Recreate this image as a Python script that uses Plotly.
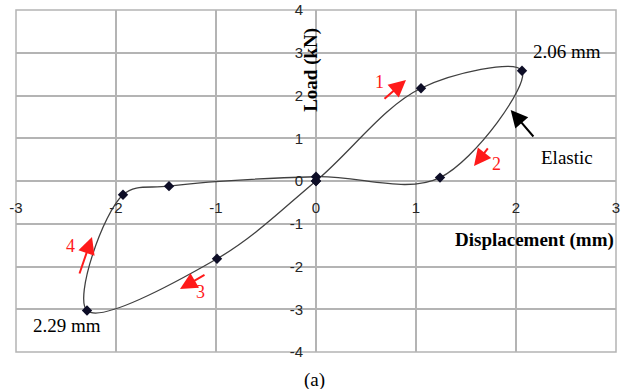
import plotly.graph_objects as go

# Data (displacement in mm, load in kN)
disp = [0, 1.05, 2.06, 1.24, 0, -1.47, -1.93, -2.29, -0.99, 0]
load = [0, 2.17, 2.58, 0.08, 0.1, -0.12, -0.32, -3.03, -1.82, 0]

x_ticks = [-3, -2, -1, 0, 1, 2, 3]
y_ticks = [-4, -3, -2, -1, 0, 1, 2, 3, 4]

GRID = "#b4b4b4"
TICKFONT = dict(family="Liberation Sans, Arial, sans-serif", size=15, color="#262626")
SERIF = "Liberation Serif, Times New Roman, serif"

fig = go.Figure()
fig.add_trace(go.Scatter(
    x=disp, y=load, mode="lines+markers",
    line=dict(shape="spline", smoothing=1.0, color="#404040", width=1.3),
    marker=dict(symbol="diamond", size=8, color="#0d0d26"),
    showlegend=False, hoverinfo="skip",
))

annotations = []
# axis titles
annotations.append(dict(x=-0.05, y=2.6, xref="x", yref="y", text="<b>Load (kN)</b>",
                        textangle=-90, showarrow=False,
                        font=dict(family=SERIF, size=19, color="black")))
annotations.append(dict(x=2.18, y=-1.38, xref="x", yref="y", text="<b>Displacement (mm)</b>",
                        showarrow=False, font=dict(family=SERIF, size=19, color="black")))
# text labels
for txt, xx, yy in [("2.06 mm", 2.51, 3.04), ("Elastic", 2.51, 0.56), ("2.29 mm", -2.49, -3.37)]:
    annotations.append(dict(x=xx, y=yy, xref="x", yref="y", text=txt, showarrow=False,
                            font=dict(family=SERIF, size=19, color="black")))
# red numbered arrows (head position in data, tail offset in px)
red_arrows = [(0.90, 2.363, -23, 20), (1.58, 0.351, 15, -19),
              (-1.36, -2.526, 26, -15), (-2.24, -1.31, -13, 38)]
for hx, hy, ax, ay in red_arrows:
    annotations.append(dict(x=hx, y=hy, xref="x", yref="y", ax=ax, ay=ay, text="",
                            showarrow=True, arrowhead=2, arrowsize=1.7, arrowwidth=2,
                            arrowcolor="#ff1a1a", standoff=0))
for txt, xx, yy in [("1", 0.63, 2.316), ("2", 1.80, 0.398), ("3", -1.16, -2.596), ("4", -2.453, -1.513)]:
    annotations.append(dict(x=xx, y=yy, xref="x", yref="y", text=txt, showarrow=False,
                            font=dict(family=SERIF, size=18, color="#ff1a1a")))
# black arrow for "Elastic"
annotations.append(dict(x=1.947, y=1.661, xref="x", yref="y", ax=24, ay=28, text="",
                        showarrow=True, arrowhead=2, arrowsize=1.7, arrowwidth=2,
                        arrowcolor="black", standoff=0))
# caption
annotations.append(dict(x=0.497, y=-0.045, xref="paper", yref="paper", text="(a)",
                        showarrow=False, yanchor="top",
                        font=dict(family=SERIF, size=19, color="black")))

fig.update_layout(
    width=624, height=389,
    margin=dict(l=16, r=8, t=10, b=37, autoexpand=False),
    paper_bgcolor="white", plot_bgcolor="white",
    annotations=annotations,
    shapes=[dict(type="rect", xref="paper", yref="paper", x0=0, x1=1, y0=0, y1=1,
                 line=dict(color=GRID, width=1.5), layer="below")],
    xaxis=dict(range=[-3, 3], tickvals=x_ticks, ticktext=[str(v) for v in x_ticks],
               showgrid=True, gridcolor=GRID, gridwidth=1.5,
               zeroline=True, zerolinecolor=GRID, zerolinewidth=1.5,
               showline=False, ticks="", anchor="free", position=0.5,
               ticklabelstandoff=16, tickfont=TICKFONT),
    yaxis=dict(range=[-4, 4], tickvals=y_ticks, ticktext=[str(v) for v in y_ticks],
               showgrid=True, gridcolor=GRID, gridwidth=1.5,
               zeroline=True, zerolinecolor=GRID, zerolinewidth=1.5,
               showline=False, ticks="", anchor="free", position=0.5,
               ticklabelstandoff=13, tickfont=TICKFONT),
)

fig.write_html("out.html", config={"displayModeBar": False},
               post_script="document.body.style.margin='0px';")
